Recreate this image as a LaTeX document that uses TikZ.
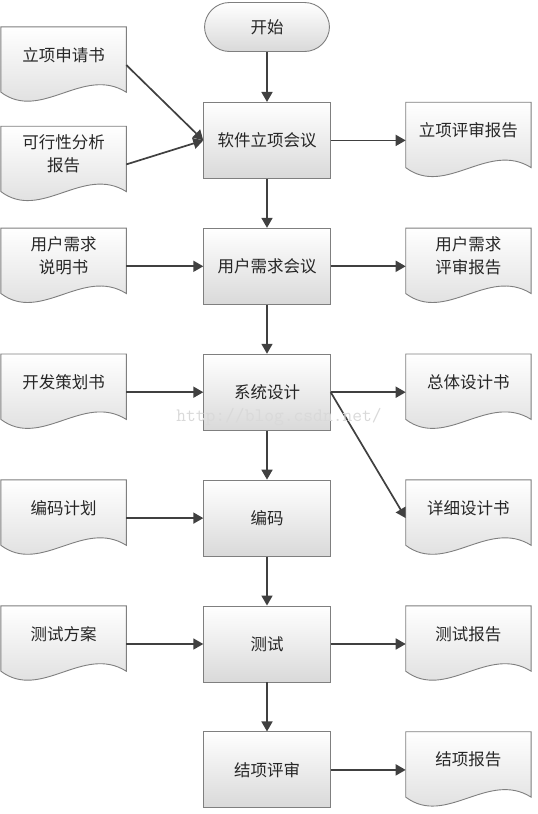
\documentclass[tikz,border=0pt]{standalone}
\usepackage{fontspec}
\newfontfamily\cjk{Noto Sans CJK SC}
\usepackage{tikz}
\usetikzlibrary{positioning,arrows.meta}
\definecolor{edgegray}{HTML}{7F7F7F}
\definecolor{arrowgray}{HTML}{404040}
\definecolor{fillbot}{HTML}{D9D9D9}
\definecolor{textgray}{HTML}{262626}

\begin{document}
\begin{tikzpicture}[every node/.style={font=\cjk\fontsize{16.5}{23}\selectfont,text=textgray},proc/.style={draw=edgegray,line width=0.9pt,rectangle,minimum width=126.5pt,minimum height=76pt,top color=white,bottom color=fillbot,align=center},doc/.style={rectangle,minimum width=125pt,minimum height=76pt,inner sep=0pt},docshape/.style={draw=edgegray,line width=0.9pt,top color=white,bottom color=fillbot},doctext/.style={align=center},arrow/.style={-{Triangle[length=10pt,width=11pt]},line width=1.7pt,draw=arrowgray},node distance=49pt]
\useasboundingbox (0,0) rectangle (538pt,-814pt);
% main flow
\node[proc,rounded corners=25pt,minimum width=125pt,minimum height=49pt] (start) at (267pt,-27pt) {开始};
\node[proc,below=50pt of start] (proj) {软件立项会议};
\node[proc,below=of proj] (req) {用户需求会议};
\node[proc,below=of req] (design) {系统设计};
\node[proc,below=of design] (code) {编码};
\node[proc,below=of code] (test) {测试};
\node[proc,below=of test] (close) {结项评审};
% input documents
\node[doc,left=77pt of proj,yshift=-24pt] (feas) {};
\node[doc,above=23pt of feas] (apply) {};
\node[doc,left=77pt of req] (reqspec) {};
\node[doc,left=77pt of design] (plan) {};
\node[doc,left=77pt of code] (codeplan) {};
\node[doc,left=77pt of test] (testplan) {};
% output documents
\node[doc,right=75pt of proj] (projrev) {};
\node[doc,right=75pt of req] (reqrev) {};
\node[doc,right=75pt of design] (overall) {};
\node[doc,right=75pt of code] (detail) {};
\node[doc,right=75pt of test] (testrep) {};
\node[doc,right=75pt of close] (closerep) {};
\foreach \d/\t in {apply/立项申请书,feas/{可行性分析\\报告},reqspec/{用户需求\\说明书},plan/开发策划书,codeplan/编码计划,testplan/测试方案,projrev/立项评审报告,reqrev/{用户需求\\评审报告},overall/总体设计书,detail/详细设计书,testrep/测试报告,closerep/结项报告}{
  \path[docshape] (\d.north west) -- (\d.north east) -- ([yshift=11pt]\d.south east)
    .. controls ([shift={(-43pt,38pt)}]\d.south east) and ([shift={(40pt,-19pt)}]\d.south west) .. ([yshift=11pt]\d.south west) -- cycle;
  \node[doctext] (\d text) at ([yshift=-28pt]\d.north) {\t};
}
% connectors
\draw[arrow] (start) -- (proj);
\draw[arrow] (apply.east) -- (proj.west);
\draw[arrow] (feas.east) -- (proj.west);
\foreach \a/\b in {proj/req,req/design,design/code,code/test,test/close} \draw[arrow] (\a) -- (\b);
\foreach \a/\b in {reqspec/req,plan/design,codeplan/code,testplan/test} \draw[arrow] (\a) -- (\b);
\foreach \a/\b in {proj/projrev,req/reqrev,design/overall,test/testrep,close/closerep} \draw[arrow] (\a) -- (\b);
\draw[arrow] (design.east) -- (detail.west);
\node[font=\ttfamily\fontsize{19}{19}\selectfont,text=gray!30] (mark) at (279pt,-417pt) {http://blog.csdn.net/};
\end{tikzpicture}
\end{document}
